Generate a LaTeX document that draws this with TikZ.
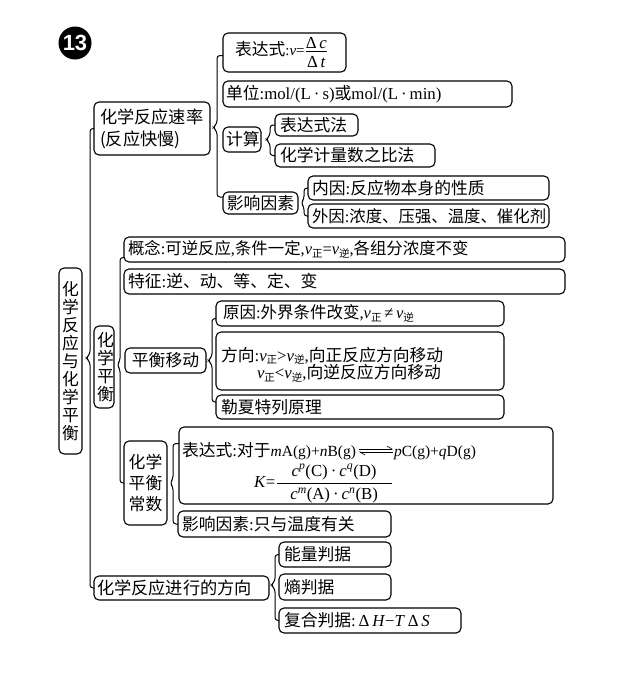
\documentclass[tikz,border=0pt]{standalone}
\usepackage{fontspec}
\usepackage{amsmath}
\setmainfont{Noto Sans CJK SC}
\newfontfamily\latin{Liberation Serif}
\newfontfamily\badgefont{Liberation Sans}
\usetikzlibrary{arrows.meta,positioning}
\newcommand{\lat}[1]{{\latin #1}}
\newcommand{\vzheng}{\lat{\textit{v}}\raisebox{-2.5pt}{\fontsize{10.5}{10.5}\selectfont 正}}
\newcommand{\vni}{\lat{\textit{v}}\raisebox{-2.5pt}{\fontsize{10.5}{10.5}\selectfont 逆}}

\begin{document}
\begin{tikzpicture}[
    x=1pt, y=-1pt,
    box/.style={rectangle, rounded corners=5pt, draw=black, line width=1.1pt, outer sep=0pt,
                inner xsep=3pt, inner ysep=0pt, align=left, anchor=north west,
                font=\fontsize{16.8}{19.5}\selectfont},
    wh/.style 2 args={text width=#1pt-6pt, minimum height=#2pt},
    mid/.style={align=center},
    brace/.style={draw=black, line width=1pt, rounded corners=3pt},
    harp/.style={draw=black, line width=0.6pt, -{Straight Barb[left,length=5pt,width=6pt]}},
    badge/.style={circle, fill=black, text=white, inner sep=0pt, minimum size=33pt,
                  font=\badgefont\bfseries\fontsize{22}{22}\selectfont}
]
\useasboundingbox (0,0) rectangle (640,686);
\node[badge] (badge) at (75,43) {13};
\node[box, mid, wh={23}{186}, font=\fontsize{16.8}{18}\selectfont] (root) at (59,268) {化\\学\\反\\应\\与\\化\\学\\平\\衡};
\node[box, wh={116}{53}, font=\fontsize{17.2}{22}\selectfont] (rate) at (94,102) {\hspace*{3pt}化学反应速率\\\hspace*{3pt}(反应快慢)};
% rate branch
\node[box, wh={123}{39}] (expr) at (223,33) {\hspace*{9pt}表达式\lat{\fontsize{15}{15}\selectfont:\textit{v}=}$\textstyle\frac{\mbox{\lat{Δ\,\textit{c}}}}{\mbox{\rule{0pt}{15pt}\lat{Δ\,\textit{t}}}}$};
\node[box, wh={289}{26}, below right=9pt and 0pt of expr.south west] (unit) {单位\lat{:mol/(L\hspace{3pt}·\hspace{3pt}s)}或\lat{mol/(L\hspace{3pt}·\hspace{3pt}min)}};
\node[box, mid, wh={38}{25}] (calc) at (223,127) {计算};
\node[box, wh={83}{22}] (calcA) at (275,114) {\hspace*{2pt}表达式法};
\node[box, wh={160}{23}, below right=8pt and 0pt of calcA.south west] (calcB) {\hspace*{2pt}化学计量数之比法};
\node[box, mid, wh={75}{22}] (factor) at (223,192) {影响因素};
\node[box, wh={241}{24}] (inner) at (308,176) {\hspace*{1pt}内因\lat{:}反应物本身的性质};
\node[box, wh={241}{24}, below right=4pt and 0pt of inner.south west, font=\fontsize{16.4}{19.5}\selectfont] (outer) {\hspace*{1pt}外因\lat{:}浓度、压强、温度、催化剂};
% equilibrium branch
\node[box, mid, wh={20}{82}, font=\fontsize{16.8}{18}\selectfont] (equil) at (94,326) {化\\学\\平\\衡};
\node[box, wh={441}{25}, font=\fontsize{16.4}{19.5}\selectfont] (concept) at (124,237) {\hspace*{1pt}概念\lat{:}可逆反应\lat{,}条件一定\lat{,}\vzheng\lat{=}\vni\lat{,}各组分浓度不变};
\node[box, wh={441}{25}, below right=7pt and 0pt of concept.south west] (feature) {\hspace*{1pt}特征\lat{:}逆、动、等、定、变};
\node[box, mid, wh={81}{25}] (shift) at (125,348) {平衡移动};
\node[box, wh={288}{25}, font=\fontsize{16.5}{19.5}\selectfont] (cause) at (216,301) {\hspace*{4pt}原因\lat{:}外界条件改变\lat{,}\vzheng\,\lat{≠}\,\vni};
\node[box, wh={288}{58}, below right=6pt and 0pt of cause.south west] (dirn) {\rule{0pt}{21pt}\hspace*{2pt}方向\lat{:}\vzheng\lat{>}\vni\lat{,}向正反应方向移动\\[-2pt]\hspace*{38pt}\vzheng\lat{<}\vni\lat{,}向逆反应方向移动};
\node[box, wh={288}{24}, below right=5pt and 0pt of dirn.south west] (lechat) {\hspace*{2pt}勒夏特列原理};
\node[box, mid, wh={43}{84}, font=\fontsize{16.8}{21}\selectfont] (const) at (124,441) {化学\\平衡\\常数};
\node[box, wh={374}{77}] (kexpr) at (179,427) {\rule{0pt}{29pt}表达式\lat{:}对于\lat{\fontsize{15.5}{15.5}\selectfont\textit{m}A(g)+\textit{n}B(g)}\hspace*{38pt}\lat{\fontsize{15.5}{15.5}\selectfont\textit{p}C(g)+\textit{q}D(g)}\\[3pt]\hspace*{72pt}\lat{\textit{K}=}$\dfrac{\makebox[115pt]{\lat{\textit{c}\textsuperscript{\textit{p}}(C)\hspace{3pt}·\hspace{3pt}\textit{c}\textsuperscript{\textit{q}}(D)}}}{\makebox[115pt]{\lat{\textit{c}\textsuperscript{\textit{m}}(A)\hspace{3pt}·\hspace{3pt}\textit{c}\textsuperscript{\textit{n}}(B)}}}$};
\node[box, wh={213}{26}] (kfactor) at (178,511) {\hspace*{1pt}影响因素\lat{:}只与温度有关};
% direction branch
\node[box, wh={175}{24}, font=\fontsize{17.2}{20}\selectfont] (direction) at (94,576) {化学反应进行的方向};
\node[box, wh={112}{25}] (energy) at (279,542) {\hspace*{2pt}能量判据};
\node[box, wh={112}{26}, below right=7pt and 0pt of energy.south west] (entropy) {\hspace*{2pt}熵判据};
\node[box, wh={182}{25}, below right=8pt and 0pt of entropy.south west] (gibbs) {\hspace*{2pt}复合判据\lat{:\,Δ\,\textit{H}−\textit{T}\,Δ\,\textit{S}}};
% equilibrium arrow of the reaction
\coordinate (eqL) at (359,449);
\coordinate (eqR) at (393,449);
\coordinate (eqLb) at (359,452);
\coordinate (eqRb) at (393,452);
\draw[harp] (eqL) -- (eqR);
\draw[harp] (eqRb) -- (eqLb);
% braces
\coordinate (tipA) at ([xshift=4pt,yshift=3pt]root.east);
\coordinate (tipB) at ([xshift=3pt,yshift=2pt]equil.east);
\coordinate (tipC) at ([xshift=3pt,yshift=1pt]rate.east);
\coordinate (tipD) at ([xshift=5pt]calc.east);
\coordinate (tipE) at ([xshift=3pt]factor.east);
\coordinate (tipF) at ([xshift=2pt]shift.east);
\coordinate (tipG) at ([xshift=3pt]const.east);
\coordinate (tipH) at ([xshift=2pt,yshift=3pt]direction.east);
\draw[brace] (rate.west) -| ([shift={(4pt,4pt)}]tipA) -- (tipA) -- ([shift={(4pt,-4pt)}]tipA) |- (direction.west);
\draw[brace] ([yshift=-8pt]concept.west) -| ([shift={(3pt,4pt)}]tipB) -- (tipB) -- ([shift={(3pt,-4pt)}]tipB) |- (const.west);
\draw[brace] ([yshift=-3pt]expr.west) -| ([shift={(4pt,4pt)}]tipC) -- (tipC) -- ([shift={(4pt,-4pt)}]tipC) |- ([yshift=6pt]factor.west);
\draw[brace] (calcA.west) -| ([shift={(4pt,4pt)}]tipD) -- (tipD) -- ([shift={(4pt,-4pt)}]tipD) |- (calcB.west);
\draw[brace] (inner.west) -| ([shift={(3pt,4pt)}]tipE) -- (tipE) -- ([shift={(3pt,-4pt)}]tipE) |- (outer.west);
\draw[brace] ([yshift=-5pt]cause.west) -| ([shift={(4pt,4pt)}]tipF) -- (tipF) -- ([shift={(4pt,-4pt)}]tipF) |- ([yshift=5pt]lechat.west);
\draw[brace] ([yshift=22pt]kexpr.west) -| ([shift={(3pt,4pt)}]tipG) -- (tipG) -- ([shift={(3pt,-4pt)}]tipG) |- (kfactor.west);
\draw[brace] (energy.west) -| ([shift={(4pt,4pt)}]tipH) -- (tipH) -- ([shift={(4pt,-4pt)}]tipH) |- (gibbs.west);
\end{tikzpicture}
\end{document}
